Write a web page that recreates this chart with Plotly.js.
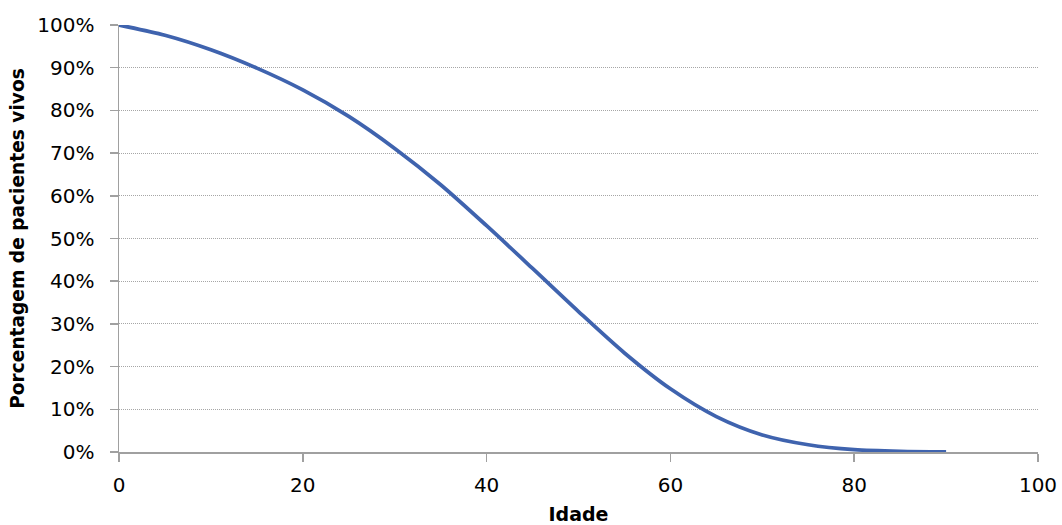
<!DOCTYPE html>
<html>
<head>
<meta charset="utf-8">
<script src="https://cdn.plot.ly/plotly-3.0.1.min.js"></script>
<style>
  html, body { margin: 0; padding: 0; background: #ffffff; }
  #chart { width: 1062px; height: 525px; }
</style>
</head>
<body>
<div id="chart"></div>
<script>
// Survival curve: share of patients still alive by age
const idade = [0, 5, 10, 15, 20, 25, 30, 35, 40, 45, 50, 55, 60, 65, 70, 75, 80, 85, 90];
const vivos = [100, 97.6, 94.2, 89.9, 84.8, 78.6, 71.1, 62.6, 53.0, 43.0, 32.9, 23.2, 14.8, 8.3, 4.0, 1.7, 0.55, 0.15, 0.03];
const xTicks = [0, 20, 40, 60, 80, 100];
const yTicks = [0, 10, 20, 30, 40, 50, 60, 70, 80, 90, 100];

const font = "'DejaVu Sans', sans-serif";
const axisGray = '#A0A0A0';

const trace = {
  x: idade,
  y: vivos,
  type: 'scatter',
  mode: 'lines',
  line: { color: '#3F63AE', width: 3.75, shape: 'spline', smoothing: 0.8 },
  hoverinfo: 'x+y'
};

const layout = {
  width: 1062,
  height: 525,
  margin: { l: 119, r: 24, t: 25, b: 73 },
  paper_bgcolor: '#ffffff',
  plot_bgcolor: '#ffffff',
  showlegend: false,
  font: { family: font, size: 20, color: '#000000' },
  xaxis: {
    range: [0, 100],
    tickvals: xTicks,
    ticktext: xTicks.map(String),
    showgrid: false,
    zeroline: false,
    showline: true,
    linecolor: axisGray,
    linewidth: 1.5,
    ticks: 'outside',
    ticklen: 8,
    tickwidth: 1.5,
    tickcolor: axisGray,
    ticklabelstandoff: 6,
    tickfont: { family: font, size: 20, color: '#000' },
    title: { text: '<b>Idade</b>', font: { family: font, size: 19, color: '#000' }, standoff: 16 }
  },
  yaxis: {
    range: [0, 100],
    tickvals: yTicks,
    ticktext: yTicks.map(v => v + '%'),
    showgrid: true,
    gridcolor: '#A6A6A6',
    griddash: '1px,1px',
    gridwidth: 1,
    zeroline: false,
    showline: true,
    linecolor: axisGray,
    linewidth: 1.5,
    ticks: 'outside',
    ticklen: 8,
    tickwidth: 1.5,
    tickcolor: axisGray,
    ticklabelstandoff: 11,
    tickfont: { family: font, size: 20, color: '#000' },
    title: { text: '<b>Porcentagem de pacientes vivos</b>', font: { family: font, size: 18.6, color: '#000' }, standoff: 8 }
  }
};

Plotly.newPlot('chart', [trace], layout, { staticPlot: true, displayModeBar: false });
</script>
</body>
</html>
